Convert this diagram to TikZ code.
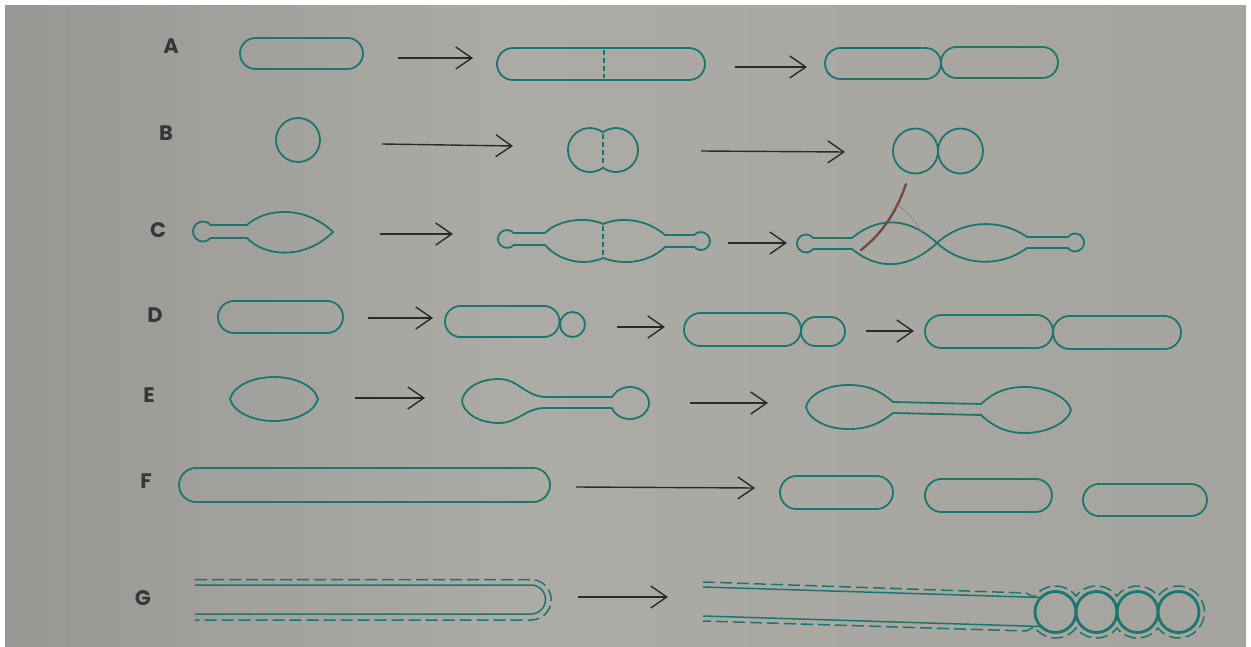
\documentclass[tikz,border=0pt]{standalone}
\usepackage{fontspec}
\setmainfont{Poppins}
\usetikzlibrary{arrows.meta}
\definecolor{pagedark}{RGB}{152,151,147}
\definecolor{pagemid}{RGB}{172,171,166}
\definecolor{pageright}{RGB}{164,163,158}
\definecolor{cellteal}{RGB}{28,118,112}
\definecolor{arrowgray}{RGB}{42,42,44}
\definecolor{labelgray}{RGB}{55,55,58}
\definecolor{hairbrown}{RGB}{112,76,64}
\begin{document}
\begin{tikzpicture}[x=1pt,y=1pt,
  cell/.style={draw=cellteal,line width=1.8pt,line join=round},
  wall/.style={draw=cellteal,line width=1.5pt},
  sheath/.style={draw=cellteal,line width=1.5pt,dash pattern=on 12pt off 5pt},
  septum/.style={draw=cellteal,line width=1.5pt,dash pattern=on 5pt off 3pt},
  spore/.style={draw=cellteal,line width=2.8pt},
  arr/.style={draw=arrowgray,line width=1.4pt,-{Straight Barb[length=16pt,width=22pt]}},
  lbl/.style={text=labelgray,font=\fontsize{21}{21}\selectfont\bfseries,inner sep=0pt}]

% page
\useasboundingbox (0,0) rectangle (1251,-647);
\fill[white] (0,0) rectangle (1251,-647);
\shade[left color=pagedark,right color=pagemid] (5,-6) rectangle (520,-647);
\shade[left color=pagemid,right color=pageright] (520,-6) rectangle (1246,-647);

% row labels
\node[lbl] (labA) at (171,-46) {A};
\node[lbl] (labB) at (166,-133) {B};
\node[lbl] (labC) at (158,-230) {C};
\node[lbl] (labD) at (155,-315) {D};
\node[lbl] (labE) at (149,-395) {E};
\node[lbl] (labF) at (146,-481) {F};
\node[lbl] (labG) at (143,-598) {G};

% arrow end points
\coordinate (a1s) at (398,-58);  \coordinate (a1e) at (473,-58);
\coordinate (a2s) at (735,-67);  \coordinate (a2e) at (807,-67);
\coordinate (b1s) at (382,-144); \coordinate (b1e) at (513,-146);
\coordinate (b2s) at (701,-151); \coordinate (b2e) at (845,-152);
\coordinate (c1s) at (380,-234); \coordinate (c1e) at (453,-234);
\coordinate (c2s) at (728,-243); \coordinate (c2e) at (787,-243);
\coordinate (d1s) at (368,-318); \coordinate (d1e) at (433,-318);
\coordinate (d2s) at (617,-327); \coordinate (d2e) at (665,-327);
\coordinate (d3s) at (866,-331); \coordinate (d3e) at (914,-331);
\coordinate (e1s) at (355,-398); \coordinate (e1e) at (425,-398);
\coordinate (e2s) at (690,-403); \coordinate (e2e) at (768,-403);
\coordinate (f1s) at (576,-487); \coordinate (f1e) at (755,-488);
\coordinate (g1s) at (578,-597); \coordinate (g1e) at (668,-597);

\foreach \s/\e in {a1s/a1e,a2s/a2e,b1s/b1e,b2s/b2e,c1s/c1e,c2s/c2e,
                   d1s/d1e,d2s/d2e,d3s/d3e,e1s/e1e,e2s/e2e,f1s/f1e,g1s/g1e}
  \draw[arr] (\s) -- (\e);

% A: transverse fission of a rod
\draw[cell,rounded corners=15.5pt] (240,-38) rectangle (363,-69);
\draw[cell,rounded corners=16pt] (497,-48) rectangle (705,-80);
\draw[septum] (604,-50) -- (604,-78);
\draw[cell,rounded corners=15.5pt] (825,-48) rectangle (941,-79);
\draw[cell,rounded corners=15.5pt] (941,-47) rectangle (1058,-78);

% B: coccus dividing
\draw[cell] (298,-140) circle (22);
\draw[cell] (603,-132.3) arc[start angle=53.7,end angle=306.3,radius=22]
  arc[start angle=-126.3,end angle=126.3,radius=22] -- cycle;
\draw[septum] (603,-134) -- (603,-166);
\draw[cell] (915.5,-151) circle (22.5);
\draw[cell] (960.5,-151) circle (22.5);

% C: stalked cell
\draw[cell] (210.6,-225) arc[start angle=40.5,end angle=319.5,radius=10]
  -- (247,-238) .. controls (265,-257) and (305,-260) .. (333,-232)
  .. controls (305,-205) and (265,-208) .. (247,-225) -- cycle;
\draw[cell] (513.7,-233) arc[start angle=41.8,end angle=318.2,radius=9]
  -- (545,-245) .. controls (560,-262) and (585,-266) .. (603,-258)
  .. controls (625,-266) and (650,-262) .. (665,-247)
  -- (694.3,-247) arc[start angle=-138.2,end angle=138.2,radius=9]
  -- (665,-235) .. controls (648,-220) and (622,-216) .. (603,-224)
  .. controls (585,-216) and (558,-220) .. (545,-233) -- cycle;
\draw[septum] (603,-226) -- (603,-256);
\draw[cell] (813.1,-238) arc[start angle=37.7,end angle=322.3,radius=9]
  -- (852,-249) .. controls (880,-272) and (910,-268) .. (937,-243)
  .. controls (962,-220) and (1000,-218) .. (1027,-237)
  -- (1067.9,-237) arc[start angle=142.3,end angle=-142.3,radius=9]
  -- (1027,-248) .. controls (1000,-268) and (962,-266) .. (937,-243)
  .. controls (910,-218) and (880,-215) .. (852,-238) -- cycle;
% stray fibre lying on the page
\draw[hairbrown,line width=2.4pt,line cap=round]
  (906,-184) .. controls (897,-210) and (884,-232) .. (861,-250);
\draw[hairbrown!70!white,line width=0.7pt,line cap=round]
  (897,-206) .. controls (906,-209) and (915,-220) .. (922,-233);

% D: budding rod
\draw[cell,rounded corners=16pt] (218,-301) rectangle (343,-333);
\draw[cell,rounded corners=15.5pt] (445,-306) rectangle (559.5,-337);
\draw[cell] (572.5,-324.5) circle (12.5);
\draw[cell,rounded corners=16.5pt] (684,-313) rectangle (801,-346);
\draw[cell,rounded corners=14.5pt] (801,-317) rectangle (845,-346);
\draw[cell,rounded corners=16.5pt] (925,-315) rectangle (1053,-348);
\draw[cell,rounded corners=16.5pt] (1053,-316) rectangle (1181,-349);

% E: budding via a filament
\draw[cell] (230,-399) .. controls (234,-385) and (254,-377) .. (274,-377)
  .. controls (294,-377) and (314,-385) .. (318,-399)
  .. controls (314,-413) and (294,-421) .. (274,-421)
  .. controls (254,-421) and (234,-413) .. (230,-399) -- cycle;
\draw[cell] (545,-397) .. controls (525,-396) and (518,-379) .. (499,-379)
  .. controls (476,-379) and (463,-391) .. (462,-401)
  .. controls (463,-411) and (476,-423) .. (499,-423)
  .. controls (518,-423) and (525,-408) .. (545,-408)
  -- (611.95,-408) arc[start angle=198.2,end angle=518,x radius=19,y radius=16] -- cycle;
\draw[cell] (893,-402) .. controls (878,-389) and (866,-385) .. (848,-385)
  .. controls (825,-385) and (808,-396) .. (806,-407)
  .. controls (808,-418) and (825,-429) .. (848,-429)
  .. controls (866,-429) and (878,-425) .. (893,-413)
  -- (981,-415) .. controls (995,-428) and (1008,-433) .. (1025,-433)
  .. controls (1048,-433) and (1068,-422) .. (1071,-410)
  .. controls (1068,-398) and (1048,-387) .. (1025,-387)
  .. controls (1008,-387) and (995,-391) .. (981,-404) -- cycle;

% F: fragmentation of a filament
\draw[cell,rounded corners=17pt] (179,-468) rectangle (550,-502);
\draw[cell,rounded corners=16.5pt] (780,-476) rectangle (893,-509);
\draw[cell,rounded corners=16.5pt] (925,-479) rectangle (1052,-512);
\draw[cell,rounded corners=16pt] (1083,-484) rectangle (1207,-516);

% G: sheathed filament forming spores
\draw[wall] (195,-585) -- (531,-585) arc[start angle=90,end angle=-90,radius=14.5] -- (195,-614);
\draw[sheath] (195,-579.5) -- (531,-579.5) arc[start angle=90,end angle=-90,radius=20.25] -- (195,-620);
\draw[wall] (703,-587) -- (1041,-597.5);
\draw[wall] (703,-616) -- (1041,-626.5);
\foreach \cx in {1055.5,1096.5,1137.5,1178.5}
  \draw[spore] (\cx,-612) circle (20.5);
\draw[sheath] (703,-582) -- (1026,-593) -- (1034.2,-597.1)
  arc[start angle=145,end angle=38,radius=26]
  arc[start angle=142,end angle=38,radius=26]
  arc[start angle=142,end angle=38,radius=26]
  arc[start angle=142,end angle=-142,radius=26]
  arc[start angle=-38,end angle=-142,radius=26]
  arc[start angle=-38,end angle=-142,radius=26]
  arc[start angle=-38,end angle=-145,radius=26]
  -- (1026,-631) -- (703,-621);
\end{tikzpicture}
\end{document}
